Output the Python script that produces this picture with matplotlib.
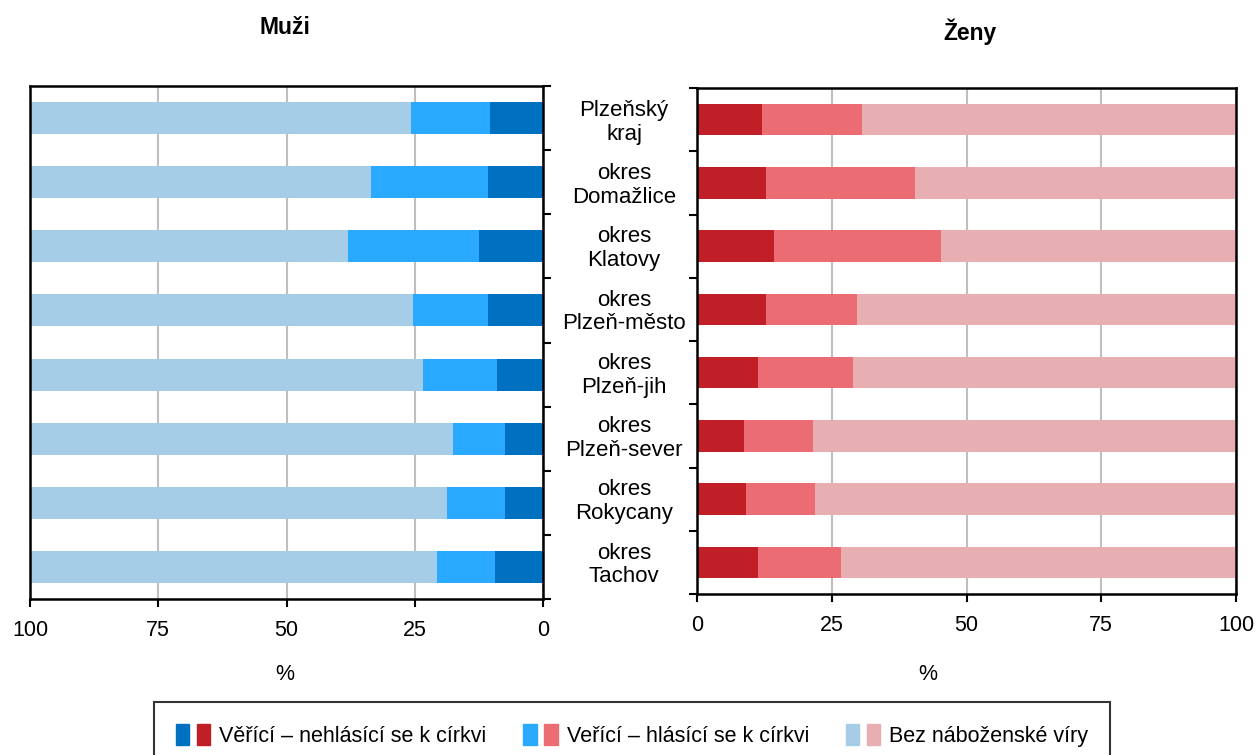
import matplotlib
matplotlib.use("Agg")
import matplotlib.pyplot as plt
import numpy as np
from matplotlib.patches import Patch
from matplotlib.legend_handler import HandlerTuple

plt.rcParams['font.family'] = ['Liberation Sans', 'DejaVu Sans']

categories = ["Plzeňský\nkraj", "okres\nDomažlice", "okres\nKlatovy", "okres\nPlzeň-město",
              "okres\nPlzeň-jih", "okres\nPlzeň-sever", "okres\nRokycany", "okres\nTachov"]
series_names = ["Věřící – nehlásící se k církvi", "Veřící – hlásící se k církvi", "Bez náboženské víry"]

men_nonchurch = [10.3, 10.7, 12.5, 10.7, 9.0, 7.4, 7.4, 9.4]
men_church = [15.4, 22.8, 25.5, 14.6, 14.4, 10.1, 11.3, 11.3]
men_none = [74.3, 66.5, 62.0, 74.7, 76.6, 82.5, 81.3, 79.3]

women_nonchurch = [12.0, 12.8, 14.3, 12.8, 11.3, 8.7, 9.1, 11.3]
women_church = [18.7, 27.6, 30.9, 16.8, 17.6, 12.8, 12.8, 15.4]
women_none = [69.3, 59.6, 54.8, 70.4, 71.1, 78.5, 78.1, 73.3]

xticks = [0, 25, 50, 75, 100]

blues = ["#0070C0", "#29A9FF", "#A6CDE7"]
reds = ["#C01F27", "#EC6C74", "#E8AFB2"]

W, H = 1258, 755
fig = plt.figure(figsize=(W / 100, H / 100), dpi=100)

def px_axes(x0, y0, x1, y1):
    return fig.add_axes([x0 / W, 1 - y1 / H, (x1 - x0) / W, (y1 - y0) / H])

axL = px_axes(30, 86, 543, 599)
axR = px_axes(697, 88, 1236, 594)

y = np.arange(len(categories))
bh = 0.5

def draw(ax, vals, colors):
    left = np.zeros(len(categories))
    for v, c in zip(vals, colors):
        v = np.array(v)
        ax.barh(y, v, left=left, height=bh, color=c, edgecolor='none', zorder=2)
        left = left + v

draw(axL, [men_nonchurch, men_church, men_none], blues)
draw(axR, [women_nonchurch, women_church, women_none], reds)

for ax in (axL, axR):
    ax.set_ylim(len(categories) - 0.5, -0.5)
    ax.set_xticks(xticks)
    ax.set_xticklabels([str(t) for t in xticks], fontsize=15.5)
    ax.tick_params(axis='x', direction='out', length=6, width=1.5, pad=9)
    ax.grid(axis='x', color='#BFBFBF', linewidth=1.5, zorder=0)
    ax.set_axisbelow(True)
    for s in ax.spines.values():
        s.set_linewidth(1.8)
        s.set_color('black')
    ax.set_yticks(np.arange(-0.5, len(categories), 1.0))
    ax.set_yticklabels([])

axL.set_xlim(100, 0)
axR.set_xlim(0, 100)
axL.yaxis.tick_right()
axL.tick_params(axis='y', direction='out', length=6, width=1.5, right=True, left=False)
axR.tick_params(axis='y', direction='out', length=6, width=1.5, left=True, right=False)

for i, cat in enumerate(categories):
    axR.text((624 - 697) / (1236 - 697), i + 0.04, cat, transform=axR.get_yaxis_transform(),
             ha='center', va='center', fontsize=16, linespacing=1.17)

fig.text(285 / W, 1 - 27 / H, "Muži", ha='center', va='center', fontsize=16.5, fontweight='bold')
fig.text(970 / W, 1 - 32 / H, "Ženy", ha='center', va='center', fontsize=16.5, fontweight='bold')
fig.text(285 / W, 1 - 675 / H, "%", ha='center', va='center', fontsize=15.5)
fig.text(928 / W, 1 - 675 / H, "%", ha='center', va='center', fontsize=15.5)

handles = [(Patch(color=b), Patch(color=r)) for b, r in zip(blues, reds)]
leg = fig.legend(handles, series_names, handler_map={tuple: HandlerTuple(ndivide=None, pad=0.35)},
                 loc='upper center', bbox_to_anchor=(632 / W, 1 - 702 / H), ncol=3,
                 fontsize=15.5, frameon=True, fancybox=False, edgecolor='black',
                 handlelength=1.6, handleheight=1.15, handletextpad=0.42, columnspacing=1.7,
                 borderpad=1.0, borderaxespad=0)
leg.get_frame().set_linewidth(1.5)

fig.savefig("out.png", dpi=100)
